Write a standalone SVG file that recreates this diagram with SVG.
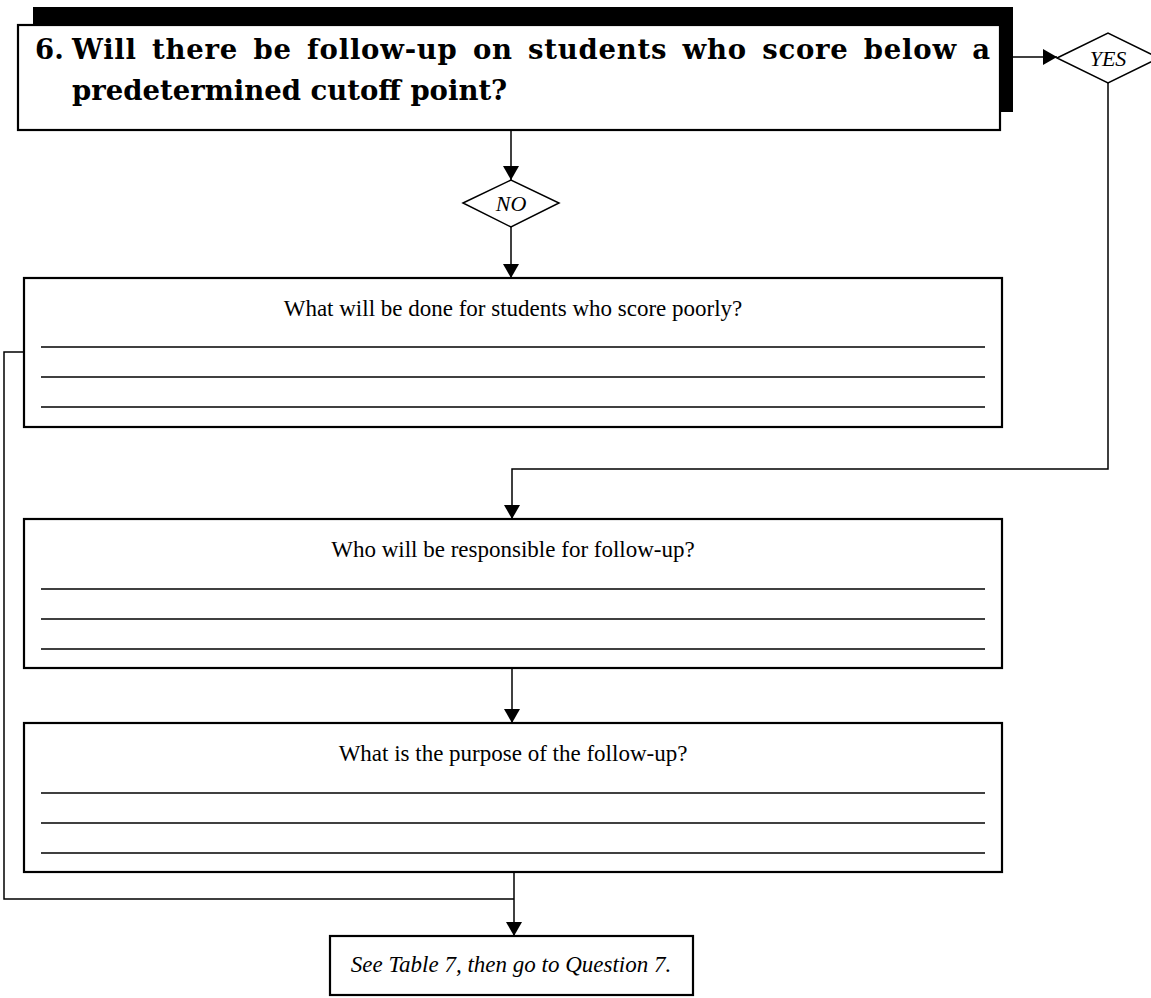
<svg xmlns="http://www.w3.org/2000/svg" width="1151" height="998" viewBox="0 0 1151 998">
  <style>
    .box { fill: #fff; stroke: #000; stroke-width: 2.2; }
    .rule { stroke: #000; stroke-width: 1.5; }
    .conn { fill: none; stroke: #000; stroke-width: 1.5; }
    .q { font-family: "DejaVu Serif", "Liberation Serif", serif; font-weight: bold; font-size: 27.5px; fill: #000; }
    .t { font-family: "Liberation Serif", serif; font-size: 23px; fill: #000; text-anchor: middle; }
    .it { font-family: "Liberation Serif", serif; font-style: italic; fill: #000; text-anchor: middle; }
    .dia { fill: #fff; stroke: #000; stroke-width: 1.5; }
  </style>
  <defs>
    <marker id="arrow" viewBox="0 0 14 16" refX="14" refY="8" markerWidth="14" markerHeight="16" markerUnits="userSpaceOnUse" orient="auto">
      <path d="M0,0 L14,8 L0,16 Z" fill="#000"/>
    </marker>
  </defs>
  <rect width="1151" height="998" fill="#fff"/>

  <!-- connectors -->
  <g id="connectors">
    <line class="conn" x1="1013" y1="57" x2="1057" y2="57" marker-end="url(#arrow)"/>
    <line class="conn" x1="511" y1="130" x2="511" y2="180" marker-end="url(#arrow)"/>
    <line class="conn" x1="511" y1="227" x2="511" y2="278" marker-end="url(#arrow)"/>
    <polyline class="conn" points="1108,83 1108,469 512,469 512,519" marker-end="url(#arrow)"/>
    <line class="conn" x1="512" y1="668" x2="512" y2="723" marker-end="url(#arrow)"/>
    <polyline class="conn" points="24,352 4,352 4,899 514,899"/>
    <line class="conn" x1="514" y1="872" x2="514" y2="936" marker-end="url(#arrow)"/>
  </g>

  <!-- question 6 header box with drop shadow -->
  <g id="question6">
    <rect x="33" y="7" width="980" height="105" fill="#000"/>
    <rect class="box" x="18" y="25" width="982" height="105"/>
    <text class="q" x="35" y="59">6.</text>
    <text class="q" x="72" y="59" word-spacing="5" textLength="918" lengthAdjust="spacing">Will there be follow-up on students who score below a</text>
    <text class="q" x="72" y="100">predetermined cutoff point?</text>
  </g>

  <g id="yes">
    <polygon class="dia" points="1057,58 1108,33 1159,58 1108,83"/>
    <text class="it" x="1108" y="66" font-size="22">YES</text>
  </g>

  <g id="no">
    <polygon class="dia" points="463,203 511,180 559,203 511,227"/>
    <text class="it" x="511" y="211" font-size="22">NO</text>
  </g>

  <g id="poorly">
    <rect class="box" x="24" y="278" width="978" height="149"/>
    <text class="t" x="513" y="316">What will be done for students who score poorly?</text>
    <line class="rule" x1="41" y1="347" x2="985" y2="347"/>
    <line class="rule" x1="41" y1="377" x2="985" y2="377"/>
    <line class="rule" x1="41" y1="407" x2="985" y2="407"/>
  </g>

  <g id="responsible">
    <rect class="box" x="24" y="519" width="978" height="149"/>
    <text class="t" x="513" y="557">Who will be responsible for follow-up?</text>
    <line class="rule" x1="41" y1="589" x2="985" y2="589"/>
    <line class="rule" x1="41" y1="619" x2="985" y2="619"/>
    <line class="rule" x1="41" y1="649" x2="985" y2="649"/>
  </g>

  <g id="purpose">
    <rect class="box" x="24" y="723" width="978" height="149"/>
    <text class="t" x="513" y="761">What is the purpose of the follow-up?</text>
    <line class="rule" x1="41" y1="793" x2="985" y2="793"/>
    <line class="rule" x1="41" y1="823" x2="985" y2="823"/>
    <line class="rule" x1="41" y1="853" x2="985" y2="853"/>
  </g>

  <g id="next">
    <rect class="box" x="330" y="936" width="363" height="59"/>
    <text class="it" x="511" y="972" font-size="23">See Table 7, then go to Question 7.</text>
  </g>
</svg>
